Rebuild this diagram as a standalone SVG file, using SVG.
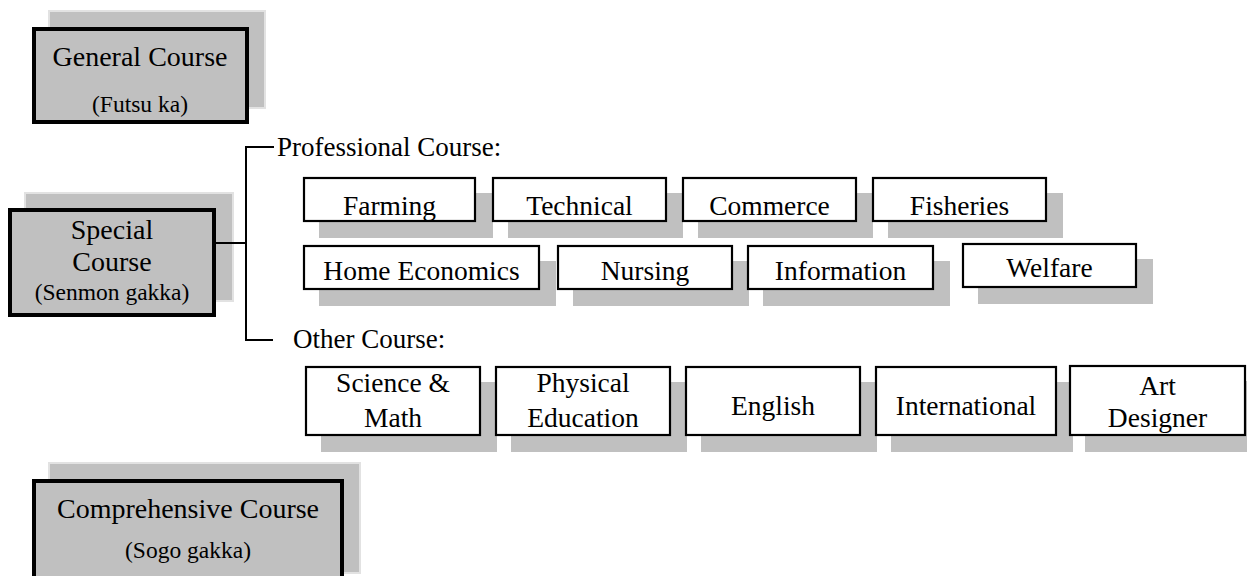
<svg xmlns="http://www.w3.org/2000/svg" width="1247" height="576" viewBox="0 0 1247 576">
<style>
text{font-family:"Liberation Serif","Times New Roman",serif;fill:#000;text-anchor:middle}
.big{font-size:28px}
.sub{font-size:23.5px}
.lbl{font-size:27px;text-anchor:start}
.t{font-size:27.5px}
.mshadow{fill:#c0c0c0;stroke:#e2e2e2;stroke-width:2}
.main{fill:#c0c0c0;stroke:#000;stroke-width:4}
.sh{fill:#c0c0c0}
.box{fill:#fff;stroke:#000;stroke-width:2.2}
.ln{fill:none;stroke:#000;stroke-width:2}
</style>
<rect width="1247" height="576" fill="#fff"/>
<g id="general">
<rect class="mshadow" x="49" y="11" width="216" height="97"/>
<rect class="main" x="34" y="29" width="213" height="93"/>
<text class="big" x="140" y="66">General Course</text>
<text class="sub" x="140" y="112">(Futsu ka)</text>
</g>
<g id="special">
<rect class="mshadow" x="25" y="193" width="208" height="108"/>
<rect class="main" x="10" y="210" width="204" height="105"/>
<text class="big" x="112" y="239">Special</text>
<text class="big" x="112" y="271">Course</text>
<text class="sub" x="112" y="300">(Senmon gakka)</text>
</g>
<g id="comprehensive">
<rect class="mshadow" x="49" y="463" width="311" height="110"/>
<rect class="main" x="34" y="481" width="308" height="100"/>
<text class="big" x="188" y="518">Comprehensive Course</text>
<text class="sub" x="188" y="558">(Sogo gakka)</text>
</g>
<g id="connectors">
<path class="ln" d="M216 243H246M274 147H246V340H273"/>
</g>
<g id="labels">
<text class="lbl" x="277" y="156">Professional Course:</text>
<text class="lbl" x="293" y="348">Other Course:</text>
</g>
<g id="farming"><rect class="sh" x="319" y="193" width="174" height="45"/><rect class="box" x="304" y="178" width="171" height="43"/><text class="t" x="389.5" y="215">Farming</text></g>
<g id="technical"><rect class="sh" x="508" y="193" width="175" height="45"/><rect class="box" x="493" y="178" width="173" height="43"/><text class="t" x="579.5" y="215">Technical</text></g>
<g id="commerce"><rect class="sh" x="698" y="193" width="175" height="45"/><rect class="box" x="683" y="178" width="173" height="43"/><text class="t" x="769.5" y="215">Commerce</text></g>
<g id="fisheries"><rect class="sh" x="888" y="193" width="175" height="45"/><rect class="box" x="873" y="178" width="173" height="43"/><text class="t" x="959.5" y="215">Fisheries</text></g>
<g id="home-economics"><rect class="sh" x="319" y="261" width="237" height="45"/><rect class="box" x="304" y="246" width="235" height="43"/><text class="t" x="421.5" y="280">Home Economics</text></g>
<g id="nursing"><rect class="sh" x="573" y="261" width="176" height="45"/><rect class="box" x="558" y="246" width="174" height="43"/><text class="t" x="645" y="280">Nursing</text></g>
<g id="information"><rect class="sh" x="763" y="261" width="187" height="45"/><rect class="box" x="748" y="246" width="185" height="43"/><text class="t" x="840.5" y="280">Information</text></g>
<g id="welfare"><rect class="sh" x="978" y="259" width="175" height="45"/><rect class="box" x="963" y="244" width="173" height="43"/><text class="t" x="1049.5" y="277">Welfare</text></g>
<g id="science-math"><rect class="sh" x="321" y="382" width="176" height="70"/><rect class="box" x="306" y="367" width="174" height="68"/><text class="t" x="393" y="392">Science &amp;</text><text class="t" x="393" y="427">Math</text></g>
<g id="physical-education"><rect class="sh" x="511" y="382" width="176" height="70"/><rect class="box" x="496" y="367" width="174" height="68"/><text class="t" x="583" y="392">Physical</text><text class="t" x="583" y="427">Education</text></g>
<g id="english"><rect class="sh" x="701" y="382" width="176" height="70"/><rect class="box" x="686" y="367" width="174" height="68"/><text class="t" x="773" y="415">English</text></g>
<g id="international"><rect class="sh" x="891" y="382" width="182" height="70"/><rect class="box" x="876" y="367" width="180" height="68"/><text class="t" x="966" y="415">International</text></g>
<g id="art-designer"><rect class="sh" x="1085" y="381" width="177" height="71"/><rect class="box" x="1070" y="366" width="175" height="69"/><text class="t" x="1157.5" y="395">Art</text><text class="t" x="1157.5" y="427">Designer</text></g>
</svg>
